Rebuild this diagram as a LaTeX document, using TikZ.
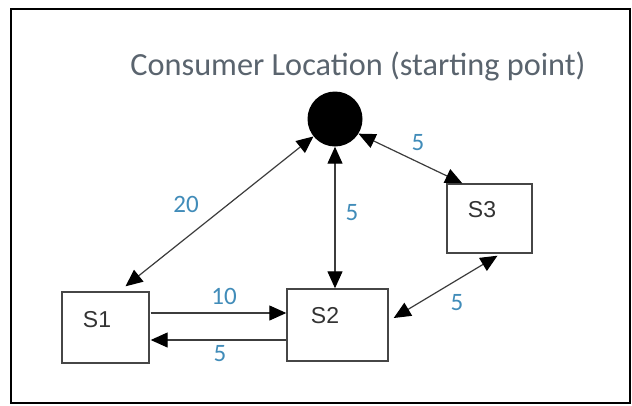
\documentclass[tikz,border=0pt]{standalone}
\usepackage{fontspec}
\newfontfamily\calfont{Carlito}
\newfontfamily\arialfont{Liberation Sans}
\usetikzlibrary{arrows.meta}
\definecolor{titlegray}{RGB}{90,100,110}
\definecolor{lblblue}{RGB}{65,140,185}
\definecolor{boxgray}{RGB}{70,70,70}
\definecolor{linegray}{RGB}{60,60,60}
\tikzset{
  stbox/.style={draw=boxgray, line width=1.4pt, fill=white, inner sep=0pt},
  stext/.style={font=\arialfont\fontsize{23}{25}\selectfont, text=black!80, inner sep=0pt},
  wlabel/.style={font=\calfont\fontsize{25}{27}\selectfont, text=lblblue, inner sep=0pt},
  tip/.tip={Triangle[length=17pt,width=15pt,black]},
  conn/.style={draw=linegray, line width=1.2pt, -tip},
  bconn/.style={draw=linegray, line width=1.2pt, tip-tip},
}
\begin{document}
\begin{tikzpicture}[x=1pt,y=-1pt]
\useasboundingbox (0,0) rectangle (632,405);
\fill[white] (0,0) rectangle (632,405);
\draw[line width=2.5pt] (11,9) rectangle (630,403);
% title
\node[font=\calfont\fontsize{32.3}{34}\selectfont, text=titlegray, anchor=base, inner sep=0pt] (title) at (358,75) {Consumer Location (starting point)};
% consumer location
\node[circle, fill=black, minimum size=55pt, inner sep=0pt] (c) at (335,119) {};
% boxes
\node[stbox, minimum width=87pt, minimum height=71pt] (s1) at (105.5,327.5) {};
\node[stbox, minimum width=101pt, minimum height=72pt] (s2) at (337.5,325) {};
\node[stbox, minimum width=85pt, minimum height=69pt] (s3) at (489.5,218.5) {};
\node[stext] (s1t) at (97,320) {S1};
\node[stext] (s2t) at (325,316) {S2};
\node[stext] (s3t) at (482,210) {S3};
% connectors
\draw[bconn] (c.219) -- ([xshift=20pt,yshift=5pt]s1.north);
\draw[bconn] (c.south) -- (c.south |- s2.north);
\draw[bconn] (c.-32) -- ([xshift=16pt]s3.north west);
\draw[bconn] ([xshift=8pt,yshift=-2pt]s3.south) -- ([xshift=5pt,yshift=7pt]s2.east);
\coordinate (a) at ([xshift=1pt,yshift=14.5pt]s1.east);
\coordinate (b) at ([xshift=1pt,yshift=-12.5pt]s1.east);
\draw[conn] (a) -- (a -| s2.west);
\draw[conn] (b -| s2.west) -- (b);
% labels
\node[wlabel] (l20) at (186,204) {20};
\node[wlabel] (l5a) at (352,213) {5};
\node[wlabel] (l5b) at (418,143) {5};
\node[wlabel] (l5c) at (457,303) {5};
\node[wlabel] (l10) at (224,296) {10};
\node[wlabel] (l5d) at (220,354) {5};
\end{tikzpicture}
\end{document}
